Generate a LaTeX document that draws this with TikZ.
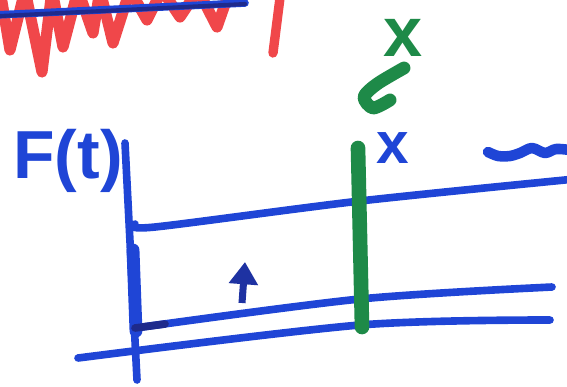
\documentclass[tikz,border=0pt]{standalone}
\usepackage{fontspec}
\setmainfont{Liberation Sans}
\usetikzlibrary{arrows.meta}
\definecolor{penBlue}{HTML}{1F45D6}
\definecolor{penNavy}{HTML}{1E2A8C}
\definecolor{penGreen}{HTML}{1E8A48}
\definecolor{penRed}{HTML}{F0474A}
\tikzset{
  stroke/.style={line width=6.5pt, line cap=round, line join=round, draw=penBlue},
  fatstroke/.style={line width=10pt, line cap=round, line join=round},
  scrawl/.style={font=\bfseries, inner sep=0pt}
}
\begin{document}
\begin{tikzpicture}[x=0.03cm, y=-0.03cm]
\useasboundingbox (0,0) rectangle (567,386);
\clip (0,0) rectangle (567,386);
% red scribble at the top
\draw[fatstroke, draw=penRed, line width=9.5pt] (0,-10) -- (10,50) -- (25,-10) -- (42,72) -- (52,-10) -- (63,47) -- (78,-10) -- (93,33) -- (100,-10) -- (113,43) -- (130,-10) -- (147,20) -- (162,-10) -- (180,17) -- (198,-10) -- (217,27) -- (230,-10);
\draw[fatstroke, draw=penRed, line width=8pt] (281,-10) -- (273,53);
\draw[stroke] (-5,15) -- (245,3);
\draw[penNavy, line width=3.5pt, line cap=round] (0,16) -- (245,4);
% labels
\node[scrawl, text=penGreen, font=\fontsize{60}{60}\selectfont\bfseries] (xgreen) at (403,38) {x};
\node[scrawl, text=penBlue, font=\fontsize{50}{50}\selectfont\bfseries] (xblue) at (393,148) {x};
\node[scrawl, text=penBlue, font=\fontsize{58}{58}\selectfont\bfseries] (ftlabel) at (68,161) {F(t)};
% green hook
\draw[fatstroke, draw=penGreen, line width=11pt] plot[smooth] coordinates {(404,68) (377,84) (364,97) (373,108) (390,100)};
% axis
\coordinate (axisTop) at (125,143);
\coordinate (axisBot) at (137,380);
\draw[stroke] (axisTop) -- (axisBot);
\draw[stroke, line width=11pt] (133,250) -- (136,331);
% level lines
\draw[stroke] plot[smooth] coordinates {(135,224) (155,227) (360,201) (575,179)};
\draw[stroke] plot[smooth] coordinates {(135,328) (360,299) (552,287)};
\draw[penNavy, line width=6.5pt, line cap=round] (135,328) -- (165,324);
\draw[stroke] plot[smooth] coordinates {(78,358) (360,325) (550,320)};
% green marker
\draw[line width=12.5pt, draw=penGreen, line cap=round] (358,148) -- (362,327);
% up arrow
\draw[-{Triangle[length=19pt,width=24pt]}, line width=6pt, draw=penNavy!70!penBlue] (242,303) -- (245,262);
% scribble at the right
\draw[penBlue, line width=9pt, line cap=round, line join=round] plot[smooth] coordinates {(488,152) (498,156) (510,156) (520,153) (532,148) (545,153) (556,149) (570,150)};
\end{tikzpicture}
\end{document}
